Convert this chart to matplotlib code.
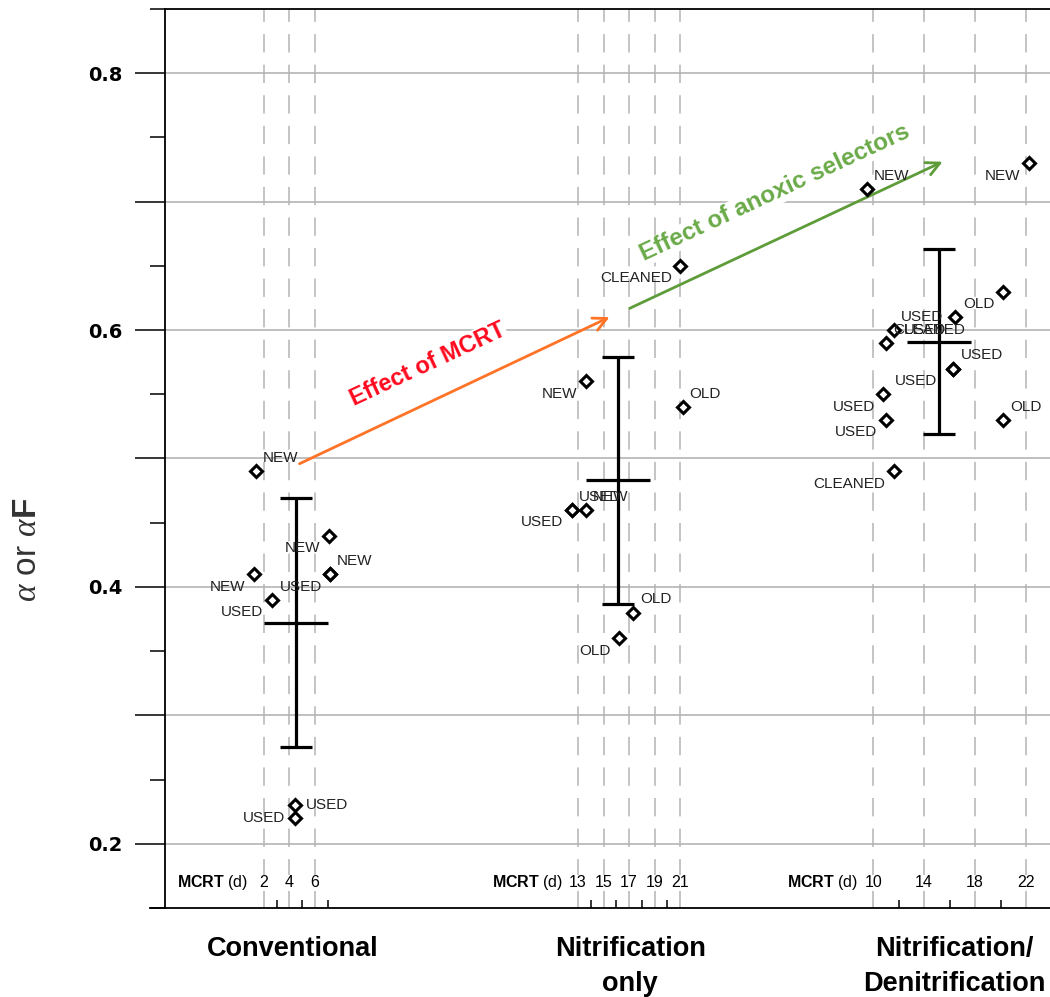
import matplotlib.pyplot as plt
import matplotlib.transforms as mtransforms
from matplotlib.ticker import FixedLocator, FuncFormatter

plt.rcParams['font.family'] = ['Liberation Sans', 'DejaVu Sans']
plt.rcParams['mathtext.fontset'] = 'custom'
plt.rcParams['mathtext.rm'] = 'Liberation Sans'
plt.rcParams['mathtext.bf'] = 'Liberation Sans:bold'
plt.rcParams['mathtext.it'] = 'Liberation Serif:italic'

# process groups and their MCRT scales
groups = ['Conventional', 'Nitrification\nonly', 'Nitrification/\nDenitrification']
mcrt_ticks = [[2, 4, 6], [13, 15, 17, 19, 21], [10, 14, 18, 22]]
mcrt_minor = [[3, 5, 7], [14, 16, 18, 20], [12, 16, 20]]

# Conventional
conv_mcrt = [1.4, 1.2, 2.6, 7.1, 7.2, 7.2, 4.4, 4.4]
conv_alpha = [0.49, 0.41, 0.39, 0.44, 0.41, 0.41, 0.23, 0.22]
conv_label = ['NEW', 'NEW', 'USED', 'NEW', 'NEW', 'USED', 'USED', 'USED']

# Nitrification only
nit_mcrt = [21.0, 13.6, 21.2, 12.5, 12.5, 13.6, 17.3, 16.2]
nit_alpha = [0.65, 0.56, 0.54, 0.46, 0.46, 0.46, 0.38, 0.36]
nit_label = ['CLEANED', 'NEW', 'OLD', 'USED', 'USED', 'NEW', 'OLD', 'OLD']

# Nitrification / Denitrification
nd_mcrt = [9.5, 22.2, 20.2, 16.4, 11.6, 11.0, 16.3, 16.3, 10.8, 11.0, 20.2, 11.6]
nd_alpha = [0.71, 0.73, 0.63, 0.61, 0.60, 0.59, 0.57, 0.57, 0.55, 0.53, 0.53, 0.49]
nd_label = ['NEW', 'NEW', 'OLD', 'USED', 'USED', 'CLEANED', 'USED', 'USED',
            'USED', 'USED', 'OLD', 'CLEANED']

# group mean +/- sd
mean_mcrt = [4.5, 16.1, 15.2]
mean_alpha = [0.372, 0.483, 0.591]
sd_alpha = [0.097, 0.096, 0.072]

# layout stuff
group_offset = [5.76, 19.39, 45.53]
group_center = [10.04, 36.47, 61.9]
label_pos = [
    ['ur', 'll', 'll', 'll', 'ur', 'll', 'r', 'l'],
    ['ll', 'll', 'ur', 'll', 'ur', 'ur', 'ur', 'll'],
    ['ur', 'll', 'll', 'll', 'ur', 'ur', 'ur', 'll2', 'll', 'll', 'ur', 'll'],
]
offsets = {'ur': (5, 9.5, 'left'), 'll': (-6, -9, 'right'), 'r': (8, 0.5, 'left'),
           'l': (-7, 0, 'right'), 'll2': (-12, -9, 'right')}

fig = plt.figure(figsize=(10.5, 9.97), dpi=100)
ax = fig.add_axes([165 / 1050, 1 - 908 / 997, 885 / 1050, 899 / 997])
ax.set_xlim(0, 69.4)
ax.set_ylim(0.15, 0.85)
trans = mtransforms.blended_transform_factory(ax.transData, ax.transAxes)

grid_col = '#b4b4b4'

# y axis
ax.yaxis.set_major_locator(FixedLocator([0.2, 0.3, 0.4, 0.5, 0.6, 0.7, 0.8]))
ax.yaxis.set_minor_locator(FixedLocator([0.15, 0.25, 0.35, 0.45, 0.55, 0.65, 0.75, 0.85]))
ax.yaxis.set_major_formatter(FuncFormatter(
    lambda v, p: f'{v:.1f}' if round(v * 10) % 2 == 0 else ''))
ax.tick_params(axis='y', which='major', length=21.6, width=1.1, pad=9,
               labelsize=14, labelfontfamily='DejaVu Sans')
ax.tick_params(axis='y', which='minor', length=11, width=1.1)
for lbl in ax.get_yticklabels():
    lbl.set_fontweight('bold')
ax.yaxis.grid(True, which='major', color=grid_col, lw=1.2, zorder=0)
ax.set_axisbelow(True)

# x axis: only the small inward minor ticks
ax.set_xticks([])
minor_x = [group_offset[i] + t for i in range(3) for t in mcrt_minor[i]]
ax.set_xticks(minor_x, minor=True)
ax.tick_params(axis='x', which='minor', direction='in', length=6, width=1.1,
               labelbottom=False)

for s in ['left', 'bottom', 'top']:
    ax.spines[s].set_linewidth(1.3)
ax.spines['right'].set_visible(False)
ax.plot([-0.017, 0], [0, 0], transform=ax.transAxes, color='black', lw=1.3,
        clip_on=False)

# dashed MCRT lines and their labels
for i in range(3):
    off = group_offset[i]
    for t in mcrt_ticks[i]:
        ax.axvline(off + t, color=grid_col, lw=1.1, ls=(0, (12, 8)), zorder=1)
        ax.text(off + t, 0.028, str(t), transform=trans, ha='center', va='center',
                fontsize=11.5, bbox=dict(fc='white', ec='none', pad=0.5), zorder=2)
    ax.annotate(r'$\mathbf{MCRT}$ (d)', xy=(off + mcrt_ticks[i][0], 0.028),
                xycoords=trans, xytext=(-11, 0), textcoords='offset points',
                ha='right', va='center', fontsize=11.5)
    ax.text(group_center[i], -0.031, groups[i], transform=trans, ha='center',
            va='top', fontsize=19.5, fontweight='bold', linespacing=1.45)

# data points with labels
data = [(conv_mcrt, conv_alpha, conv_label),
        (nit_mcrt, nit_alpha, nit_label),
        (nd_mcrt, nd_alpha, nd_label)]
for i, (m, a, labs) in enumerate(data):
    x = [group_offset[i] + v for v in m]
    ax.plot(x, a, 'D', mfc='white', mec='black', mew=2.2, ms=6.5, ls='none', zorder=6)
    for xx, yy, lab, pos in zip(x, a, labs, label_pos[i]):
        dx, dy, ha = offsets[pos]
        ax.annotate(lab, xy=(xx, yy), xytext=(dx, dy), textcoords='offset points',
                    ha=ha, va='center', fontsize=11, color='#222222', zorder=7)

# mean and sd bars
mx = [group_offset[i] + mean_mcrt[i] for i in range(3)]
ax.errorbar(mx, mean_alpha, yerr=sd_alpha, fmt='none', ecolor='black',
            elinewidth=2.3, capsize=11.5, capthick=2.3, zorder=5)
ax.plot(mx, mean_alpha, ls='none', marker='_', ms=46, mew=2.3, color='black', zorder=5)

# arrows
ax.annotate('', xy=(35.06, 0.611), xytext=(10.35, 0.495),
            arrowprops=dict(arrowstyle='->', color='#ff7326', lw=2, mutation_scale=24),
            zorder=4)
ax.annotate('', xy=(61.18, 0.732), xytext=(36.24, 0.616),
            arrowprops=dict(arrowstyle='->', color='#5e9c3a', lw=2, mutation_scale=24),
            zorder=4)
ax.text(20.63, 0.5735, 'Effect of MCRT', color='#ff0a1e', fontsize=17,
        fontweight='bold', rotation=25, rotation_mode='anchor', ha='center',
        va='center', bbox=dict(fc='white', ec='none', pad=0.5), zorder=3)
ax.text(47.84, 0.7066, 'Effect of anoxic selectors', color='#6aaa48', fontsize=17.5,
        fontweight='bold', rotation=25, rotation_mode='anchor', ha='center',
        va='center', bbox=dict(fc='white', ec='none', pad=0.5), zorder=3)

fig.text(28 / 1050, 1 - 550 / 997, r'$\alpha$ or $\alpha$$\mathbf{F}$', rotation=90,
         ha='center', va='center', fontsize=24, color='#333333')

fig.savefig('out.png', dpi=100)
